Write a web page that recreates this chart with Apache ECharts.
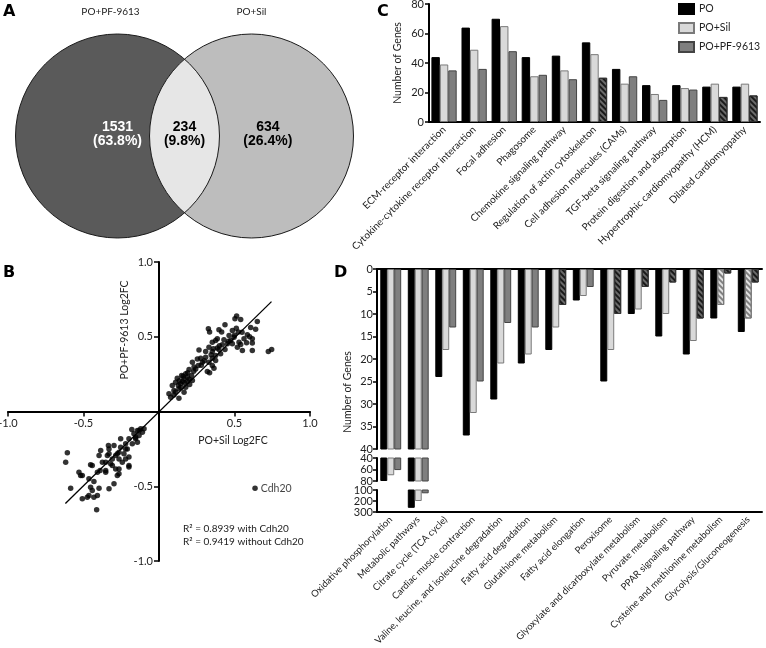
<!DOCTYPE html>
<html><head><meta charset="utf-8">
<script src="https://cdn.jsdelivr.net/npm/echarts@6/dist/echarts.min.js"></script>
<style>html,body{margin:0;padding:0;background:#fff}#c{width:766px;height:648px}</style>
</head><body><div id="c"></div>
<script>
// ---------- Panel A: Venn ----------
const vennSetNames = ['PO+PF-9613', 'PO+Sil'];
const vennCounts = [1531, 234, 634];
const vennPercents = ['63.8%', '9.8%', '26.4%'];

// ---------- Panel B: scatter (PO+Sil Log2FC, PO+PF-9613 Log2FC) ----------
const scatterPoints = [
[0.514,0.638],[0.503,0.62],[0.541,0.615],[0.651,0.602],[0.327,0.553],[0.397,0.546],[0.437,0.58],[0.607,0.562],
[0.335,0.531],[0.415,0.531],[0.486,0.542],[0.525,0.531],[0.512,0.557],[0.585,0.513],[0.464,0.508],[0.386,0.486],
[0.563,0.486],[0.618,0.486],[0.53,0.464],[0.618,0.459],[0.453,0.453],[0.486,0.453],[0.353,0.464],[0.375,0.475],
[0.331,0.43],[0.265,0.412],[0.309,0.401],[0.353,0.401],[0.397,0.415],[0.437,0.415],[0.519,0.43],[0.541,0.448],
[0.618,0.408],[0.552,0.408],[0.724,0.401],[0.746,0.415],[0.375,0.375],[0.408,0.386],[0.353,0.357],[0.309,0.363],
[0.276,0.357],[0.375,0.341],[0.331,0.33],[0.353,0.308],[0.221,0.33],[0.26,0.308],[0.243,0.285],[0.32,0.268],
[0.335,0.259],[0.364,0.29],[0.199,0.281],[0.177,0.252],[0.216,0.241],[0.15,0.241],[0.121,0.223],[0.166,0.219],
[0.188,0.201],[0.11,0.196],[0.143,0.185],[0.088,0.174],[0.177,0.163],[0.132,0.152],[0.099,0.14],[0.066,0.118],
[0.099,0.111],[0.132,0.089],[0.166,0.129],[0.077,0.096],[0.254,0.352],[0.287,0.33],[0.232,0.297],[0.188,0.23],
[0.155,0.201],[0.128,0.174],[0.203,0.18],[0.221,0.207],[0.475,0.475],[0.497,0.497],[0.419,0.446],[0.386,0.424],
[0.11,0.13],[0.145,0.16],[0.17,0.19],[0.2,0.215],[0.135,0.205],[0.16,0.235],[0.19,0.26],[0.23,0.27],
[0.28,0.31],[0.3,0.34],[0.345,0.38],[0.36,0.42],[0.4,0.44],[0.43,0.48],[0.46,0.47],[0.5,0.51],[0.55,0.53],
[0.58,0.46],[0.64,0.55],[0.6,0.5],
[-0.121,-0.116],[-0.143,-0.127],[-0.11,-0.138],[-0.166,-0.149],[-0.199,-0.183],[-0.155,-0.183],[-0.221,-0.216],
[-0.177,-0.216],[-0.143,-0.205],[-0.254,-0.239],[-0.21,-0.25],[-0.265,-0.272],[-0.232,-0.283],[-0.287,-0.294],
[-0.331,-0.25],[-0.386,-0.261],[-0.342,-0.294],[-0.309,-0.317],[-0.265,-0.317],[-0.199,-0.305],[-0.397,-0.294],
[-0.375,-0.339],[-0.32,-0.35],[-0.442,-0.361],[-0.287,-0.384],[-0.265,-0.417],[-0.353,-0.395],[-0.408,-0.406],
[-0.464,-0.45],[-0.519,-0.428],[-0.607,-0.276],[-0.618,-0.339],[-0.199,-0.361],[-0.243,-0.339],[-0.132,-0.161],
[-0.099,-0.116],[-0.335,-0.227],[-0.585,-0.513],[-0.508,-0.428],[-0.508,-0.584],[-0.475,-0.573],[-0.431,-0.468],
[-0.453,-0.506],[-0.442,-0.528],[-0.408,-0.562],[-0.464,-0.562],[-0.431,-0.573],[-0.413,-0.658],[-0.397,-0.513],
[-0.39,-0.395],[-0.453,-0.357],[-0.353,-0.406],[-0.331,-0.517],[-0.298,-0.484],[-0.309,-0.361],[-0.276,-0.428],
[-0.265,-0.384],[-0.331,-0.283],[-0.276,-0.283],[-0.221,-0.25],[-0.199,-0.372],[-0.221,-0.317],[-0.155,-0.172],
[-0.132,-0.127],[-0.18,-0.12],[-0.254,-0.183],[-0.298,-0.227],[-0.353,-0.339],[-0.53,-0.406]
];
const outlierPoint = [0.636, -0.513];
const outlierName = 'Cdh20';
const fitLineX = [-0.62, 0.745];
const fitLineY = [-0.615, 0.735];
const r2Texts = ['R\u00B2 = 0.8939 with Cdh20', 'R\u00B2 = 0.9419 without Cdh20'];
const bTicks = [-1, -0.5, 0.5, 1];

// ---------- Panel C ----------
const cCategories = ['ECM-receptor interaction','Cytokine-cytokine receptor interaction','Focal adhesion','Phagosome',
 'Chemokine signaling pathway','Regulation of actin cytoskeleton','Cell adhesion molecules (CAMs)','TGF-beta signaling pathway',
 'Protein digestion and absorption','Hypertrophic cardiomyopathy (HCM)','Dilated cardiomyopathy'];
const cPO  = [44, 64, 70, 44, 45, 54, 36, 25, 25, 24, 24];
const cSil = [39, 49, 65, 31, 35, 46, 26, 19, 23, 26, 26];
const cPF  = [35, 36, 48, 32, 29, 30, 31, 15, 22, 17, 18];
const cHatchPF = [5, 9, 10];
const cTicks = [0, 20, 40, 60, 80];

// ---------- Panel D ----------
const dCategories = ['Oxidative phosphorylation','Metabolic pathways','Citrate cycle (TCA cycle)','Cardiac muscle contraction',
 'Valine, leucine, and isoleucine degradation','Fatty acid degradation','Glutathione metabolism','Fatty acid elongation',
 'Peroxisome','Glyoxylate and dicarboxylate metabolism','Pyruvate metabolism','PPAR signaling pathway',
 'Cysteine and methionine metabolism','Glycolysis/Gluconeogenesis'];
const dPO  = [80, 262, 24, 37, 29, 21, 18, 7, 25, 10, 15, 19, 11, 14];
const dSil = [70, 200, 18, 32, 21, 19, 13, 6, 18, 9, 10, 16, 8, 11];
const dPF  = [61, 130, 13, 25, 12, 13, 8, 4, 10, 4, 3, 11, 1, 3];
const dHatchSil = [12, 13];
const dHatchPF = [6, 8, 9, 10, 11, 12, 13];
const dSegments = [[0, 40, 5], [40, 80, 20], [100, 300, 100]]; // [min, max, tick step]

// ---------- styles ----------
const FONT = 'Lato';
const TXT = '#222';
const colPO = '#000000', colSil = '#d9d9d9', colPF = '#7f7f7f';
const darkHatch = {color:'#6a6a6a', borderColor:'#333', borderWidth:1,
  decal:{symbol:'rect', symbolSize:1, dashArrayX:[1,0], dashArrayY:[2,2], rotation:Math.PI/4, color:'#1a1a1a'}};
const lightHatch = {color:'#e2e2e2', borderColor:'#777', borderWidth:1,
  decal:{symbol:'rect', symbolSize:1, dashArrayX:[1,0], dashArrayY:[2,2], rotation:Math.PI/4, color:'#808080'}};
function withHatch(vals, idx, st){ return vals.map((v,i)=> idx.indexOf(i) >= 0 ? {value:v, itemStyle:st} : v); }

const blackLine = {color:'#000', width:2};
const tickStyle = {color:'#000', width:1.5};
const lab = (o)=> Object.assign({fontFamily:FONT, color:TXT, fontSize:11}, o||{});

const vennGeom = {cx:[-0.657, 0.657], r:1};

const G = {outerBoundsMode:'none', containLabel:false};
const grids = [
  Object.assign({left:0, top:0, width:369, height:272}, G),            // 0 venn
  Object.assign({left:8, top:262, width:302, height:299}, G),          // 1 scatter
  Object.assign({left:429, top:4, width:331, height:118}, G),          // 2 C
  Object.assign({left:377, top:269, width:385, height:180}, G),        // 3 D seg1
  Object.assign({left:377, top:458, width:385, height:23}, G),         // 4 D seg2
  Object.assign({left:377, top:490, width:385, height:22}, G)          // 5 D seg3
];

const xAxes = [
  {type:'value', gridIndex:0, min:-1.809, max:1.809, show:false},
  {type:'value', gridIndex:1, min:-1, max:1, interval:0.5, position:'bottom', offset:-149.5,
   axisLine:{onZero:false, lineStyle:blackLine},
   axisTick:{length:5, lineStyle:tickStyle, customValues:bTicks},
   axisLabel:lab({customValues:bTicks, formatter:v=> v===0?'':v.toFixed(1), margin:6}),
   splitLine:{show:false}},
  {type:'category', gridIndex:2, data:cCategories,
   axisLine:{lineStyle:blackLine}, axisTick:{alignWithLabel:true, length:4, lineStyle:tickStyle},
   axisLabel:lab({rotate:45, fontSize:10, interval:0, margin:6})},
  {type:'category', gridIndex:3, data:dCategories, position:'top',
   axisLine:{onZero:false, lineStyle:blackLine}, axisTick:{show:false}, axisLabel:{show:false}},
  {type:'category', gridIndex:4, data:dCategories, show:false},
  {type:'category', gridIndex:5, data:dCategories, position:'bottom',
   axisLine:{onZero:false, lineStyle:blackLine}, axisTick:{alignWithLabel:true, length:4, lineStyle:tickStyle},
   axisLabel:lab({rotate:45, fontSize:9.5, interval:0, margin:6})}
];

const yAxes = [
  {type:'value', gridIndex:0, min:-1.333, max:1.333, show:false},
  {type:'value', gridIndex:1, min:-1, max:1, interval:0.5, position:'left', offset:-151,
   axisLine:{onZero:false, lineStyle:blackLine},
   axisTick:{length:5, lineStyle:tickStyle, customValues:bTicks},
   axisLabel:lab({customValues:bTicks, formatter:v=> v===0?'':v.toFixed(1), margin:6}),
   splitLine:{show:false}},
  {type:'value', gridIndex:2, min:cTicks[0], max:cTicks[cTicks.length-1], interval:cTicks[1]-cTicks[0],
   axisLine:{show:true, lineStyle:blackLine}, axisTick:{show:true, length:4, lineStyle:tickStyle},
   axisLabel:lab({margin:5}), splitLine:{show:false},
   name:'Number of Genes', nameLocation:'middle', nameGap:26, nameTextStyle:lab({fontSize:10.5})}
];
dSegments.forEach((s,k)=>{
  yAxes.push({type:'value', gridIndex:3+k, min:s[0], max:s[1], interval:s[2], inverse:true,
    axisLine:{show:true, onZero:false, lineStyle:blackLine}, axisTick:{show:true, length:4, lineStyle:tickStyle},
    axisLabel:lab({margin:4, showMinLabel:true, showMaxLabel:true}), splitLine:{show:false}});
});

const series = [];
// Venn
series.push({
  type:'custom', xAxisIndex:0, yAxisIndex:0, data:[[0,0]], silent:true,
  renderItem:function(params, api){
    const c1 = api.coord([vennGeom.cx[0], 0]), c2 = api.coord([vennGeom.cx[1], 0]);
    const r = api.coord([vennGeom.r, 0])[0] - api.coord([0, 0])[0];
    const cy = c1[1], mx = (c1[0]+c2[0])/2;
    const half = (c2[0]-c1[0])/2;
    const h = Math.sqrt(r*r - half*half);
    const lens = 'M'+mx+','+(cy-h)+' A'+r+','+r+' 0 0 1 '+mx+','+(cy+h)+' A'+r+','+r+' 0 0 1 '+mx+','+(cy-h)+' Z';
    const numFont = 'bold 14px "Liberation Sans", Arial, sans-serif';
    const txt = (t,x,y,fill,font)=>({type:'text', style:{text:t, x:x, y:y, fill:fill, font:font,
        align:'center', verticalAlign:'middle', textAlign:'center', textVerticalAlign:'middle'}});
    const lx = [c1[0], mx, c2[0] + 0.16*r];
    const fills = ['#fff', '#000', '#000'];
    const ch = [
      {type:'circle', shape:{cx:c1[0], cy:cy, r:r}, style:{fill:'#5a5a5a'}},
      {type:'circle', shape:{cx:c2[0], cy:cy, r:r}, style:{fill:'#bdbdbd'}},
      {type:'path', shape:{pathData:lens}, style:{fill:'#e6e6e6'}},
      {type:'circle', shape:{cx:c1[0], cy:cy, r:r}, style:{fill:null, stroke:'#1a1a1a', lineWidth:1}},
      {type:'circle', shape:{cx:c2[0], cy:cy, r:r}, style:{fill:null, stroke:'#1a1a1a', lineWidth:1}}
    ];
    for (let i=0;i<3;i++){
      ch.push(txt(String(vennCounts[i]), lx[i], cy-9, fills[i], numFont));
      ch.push(txt('('+vennPercents[i]+')', lx[i], cy+5, fills[i], numFont));
    }
    const setFont = '10px Lato';
    ch.push(txt(vennSetNames[0], c1[0]-7, 12, TXT, setFont));
    ch.push(txt(vennSetNames[1], c2[0], 12, TXT, setFont));
    return {type:'group', children:ch};
  }
});
// Scatter
series.push({type:'scatter', xAxisIndex:1, yAxisIndex:1, data:scatterPoints, symbolSize:5.5,
  itemStyle:{color:'#000'}, silent:true, z:3});
series.push({type:'scatter', xAxisIndex:1, yAxisIndex:1, data:[outlierPoint], symbolSize:5.5,
  itemStyle:{color:'#000'}, silent:true, z:3,
  label:{show:true, position:'right', distance:3, formatter:outlierName, fontFamily:FONT, fontSize:10.5, color:'#111'}});
series.push({type:'line', xAxisIndex:1, yAxisIndex:1, data:fitLineX.map((x,i)=>[x, fitLineY[i]]),
  symbol:'none', lineStyle:{color:'#000', width:1.3}, silent:true, z:2});
// C bars
const barBase = {type:'bar', barGap:'0%', silent:true};
series.push(Object.assign({}, barBase, {name:'PO', xAxisIndex:2, yAxisIndex:2, barCategoryGap:'16%', data:cPO,
  itemStyle:{color:colPO, borderColor:'#000', borderWidth:1}}));
series.push(Object.assign({}, barBase, {name:'PO+Sil', xAxisIndex:2, yAxisIndex:2, barCategoryGap:'16%', data:cSil,
  itemStyle:{color:colSil, borderColor:'#7a7a7a', borderWidth:1}}));
series.push(Object.assign({}, barBase, {name:'PO+PF-9613', xAxisIndex:2, yAxisIndex:2, barCategoryGap:'16%',
  data:withHatch(cPF, cHatchPF, darkHatch), itemStyle:{color:colPF, borderColor:'#444', borderWidth:1}}));
// D bars (three axis segments)
dSegments.forEach((s,k)=>{
  const ax = 3+k;
  series.push(Object.assign({}, barBase, {name:'PO', xAxisIndex:ax, yAxisIndex:ax, barCategoryGap:'24%', clip:true,
    data:dPO, itemStyle:{color:colPO, borderColor:'#000', borderWidth:1}}));
  series.push(Object.assign({}, barBase, {name:'PO+Sil', xAxisIndex:ax, yAxisIndex:ax, barCategoryGap:'24%', clip:true,
    data:withHatch(dSil, dHatchSil, lightHatch), itemStyle:{color:colSil, borderColor:'#7a7a7a', borderWidth:1}}));
  series.push(Object.assign({}, barBase, {name:'PO+PF-9613', xAxisIndex:ax, yAxisIndex:ax, barCategoryGap:'24%', clip:true,
    data:withHatch(dPF, dHatchPF, darkHatch), itemStyle:{color:colPF, borderColor:'#444', borderWidth:1}}));
});

const gtext = (t, x, y, o)=>Object.assign({type:'text', x:x, y:y, silent:true,
  style:Object.assign({text:t, fill:TXT, font:'10px Lato', align:'left', verticalAlign:'middle',
    textAlign:'left', textVerticalAlign:'middle'}, (o&&o.style)||{})}, o&&o.rotation!=null?{rotation:o.rotation}:{});
const letterStyle = {style:{font:'bold 16px "DejaVu Sans", sans-serif', fill:'#000'}};

const option = {
  animation:false,
  backgroundColor:'#fff',
  grid:grids, xAxis:xAxes, yAxis:yAxes, series:series,
  legend:{data:['PO','PO+Sil','PO+PF-9613'], orient:'vertical', left:678, top:3, padding:0, itemWidth:15, itemHeight:10,
    itemGap:7, icon:'rect', selectedMode:false, textStyle:lab({fontSize:10.5})},
  graphic:[
    gtext('A', 3, 12, letterStyle),
    gtext('C', 377, 12, letterStyle),
    gtext('B', 3, 273, letterStyle),
    gtext('D', 334, 273, letterStyle),
    gtext('PO+Sil Log2FC', 233, 441, {style:{align:'center', textAlign:'center', font:'10.5px Lato'}}),
    gtext('PO+PF-9613 Log2FC', 125, 330, {rotation:Math.PI/2, style:{align:'center', textAlign:'center', font:'10.5px Lato'}}),
    gtext('Number of Genes', 348, 392, {rotation:Math.PI/2, style:{align:'center', textAlign:'center', font:'10.5px Lato'}}),
    gtext(r2Texts[0], 183, 529, {style:{font:'10px Lato'}}),
    gtext(r2Texts[1], 183, 542, {style:{font:'10px Lato'}})
  ]
};
const chart = echarts.init(document.getElementById('c'), null, {renderer:'canvas', width:766, height:648});
chart.setOption(option);
</script>
</body></html>
